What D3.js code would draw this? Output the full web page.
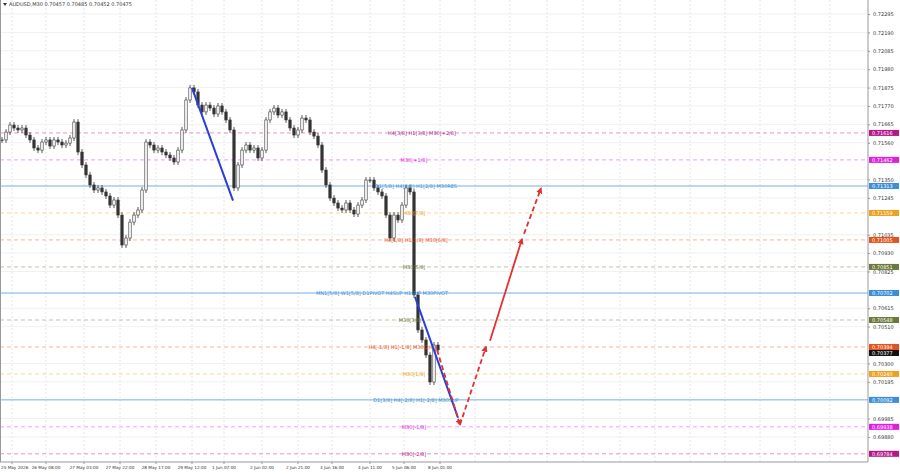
<!DOCTYPE html>
<html><head><meta charset="utf-8">
<script src="https://cdn.jsdelivr.net/npm/d3@7"></script>
<style>body{margin:0;background:#fff}svg{display:block}text{font-family:"DejaVu Sans",sans-serif}</style>
</head><body><svg id="c" width="900" height="474"></svg>
<script>
const closes=[0.71576,0.71621,0.71661,0.71644,0.71633,0.71644,0.71604,0.71576,0.71530,0.71518,0.71564,0.71576,0.71541,0.71576,0.71564,0.71547,0.71558,0.71587,0.71678,0.71507,0.71433,0.71376,0.71319,0.71290,0.71302,0.71279,0.71256,0.71204,0.71233,0.71147,0.70976,0.71016,0.71107,0.71147,0.71176,0.71290,0.71564,0.71547,0.71518,0.71530,0.71507,0.71490,0.71473,0.71450,0.71518,0.71633,0.71804,0.71873,0.71850,0.71775,0.71736,0.71775,0.71758,0.71724,0.71770,0.71736,0.71690,0.71633,0.71302,0.71433,0.71518,0.71547,0.71518,0.71530,0.71473,0.71518,0.71690,0.71736,0.71758,0.71718,0.71736,0.71690,0.71644,0.71604,0.71633,0.71701,0.71690,0.71621,0.71598,0.71547,0.71404,0.71319,0.71244,0.71216,0.71187,0.71176,0.71216,0.71176,0.71153,0.71204,0.71233,0.71347,0.71347,0.71302,0.71279,0.71256,0.71147,0.71016,0.71147,0.71119,0.71204,0.71302,0.71279,0.70691,0.70491,0.70434,0.70348,0.70194,0.70405,0.70377];
const priceTicks=[0.72295,0.72190,0.72085,0.71980,0.71875,0.71770,0.71665,0.71560,0.71350,0.71245,0.71035,0.70930,0.70825,0.70615,0.70510,0.70300,0.70195,0.69985,0.69880];
const timeLabels=["25 May 2026","26 May 08:00","27 May 03:00","27 May 22:00","28 May 17:00","29 May 12:00","1 Jun 07:00","2 Jun 02:00","2 Jun 21:00","3 Jun 16:00","4 Jun 11:00","5 Jun 06:00","8 Jun 01:00"];
const timeBars=[2.5,11,20.5,29.5,38.5,47.5,55.5,65,74,82.5,92,100.5,109.5];
const levelNames=["H4[3/8] H1[3/8] M30[+2/8]","M30[+1/8]","D1[5/8] H4[6/8] H1[2/8] M30RES","M30[7/8]","H4[1/8] H1[1/8] M30[6/8]","M30[5/8]","MN1[5/8] W1[5/8] D1PIVOT H4SUP H1SUP M30PIVOT","M30[3/8]","H4[-1/8] H1[-1/8] M30[2/8]","M30[1/8]","D1[3/8] H4[-2/8] H1[-2/8] M30SUP","M30[-1/8]","M30[-2/8]"];
const levelPrices=[0.71616,0.71462,0.71313,0.71159,0.71005,0.70851,0.70702,0.70548,0.70394,0.70240,0.70092,0.69938,0.69784];
const levelColors=["#b5178a","#e01ee0","#3b8fd8","#f0a020","#e5531c","#6b7a3a","#3b8fd8","#6b7a3a","#e5531c","#f0a020","#3b8fd8","#e01ee0","#b5178a"];
const levelSolid=[0,0,1,0,0,0,1,0,0,0,1,0,0];
const levelLabelBar=[105,103,103.5,103,103.5,103,95,102,100,103,103.5,103,103];
const blueLines=[[[47.5,0.71873],[57.75,0.71230]],[[103.25,0.70680],[114,0.69990]]];
const redDashed1=[[108.75,0.70377],[114.5,0.69950]];
const redDashed2=[[114.5,0.69950],[121,0.70395]];
const redSolid=[[122,0.70430],[130,0.71010]];
const redDashed3=[[130.5,0.71040],[134.75,0.71300]];
const current=0.70377;

const svg=d3.select("#c");
const W=868,H=462;
const x=d3.scaleLinear().domain([0,1]).range([2,6]);
const y=d3.scaleLinear().domain([0.72295,0.69880]).range([14,437]);
const defs=svg.append("defs");
defs.append("marker").attr("id","ar").attr("viewBox","0 0 10 10").attr("refX",8).attr("refY",5).attr("markerWidth",3.5).attr("markerHeight",3.5).attr("orient","auto").append("path").attr("d","M0,0L10,5L0,10z").attr("fill","#e53030");
svg.append("g").selectAll("line").data(timeBars).join("line").attr("x1",d=>x(d)).attr("x2",d=>x(d)).attr("y1",0).attr("y2",H).attr("stroke","#e6e6e6").attr("stroke-dasharray","2,2");
[475,510,547,583,620,655,690,725,760,795,830].forEach(px=>svg.append("line").attr("x1",px).attr("x2",px).attr("y1",0).attr("y2",H).attr("stroke","#e6e6e6").attr("stroke-dasharray","2,2"));
svg.append("g").selectAll("line").data(priceTicks).join("line").attr("x1",0).attr("x2",W).attr("y1",d=>y(d)).attr("y2",d=>y(d)).attr("stroke","#f0f0f0");
levelPrices.forEach((p,i)=>{
 svg.append("line").attr("x1",0).attr("x2",W).attr("y1",y(p)).attr("y2",y(p)).attr("stroke",levelColors[i]).attr("stroke-opacity",levelSolid[i]?0.7:0.55).attr("stroke-width",levelSolid[i]?1:0.8).attr("stroke-dasharray",levelSolid[i]?null:"4,3");
});
const g=svg.append("g");
closes.forEach((c,i)=>{
 const o=i?closes[i-1]:c;const hi=Math.max(o,c),lo=Math.min(o,c);
 const cx=x(i);
 g.append("line").attr("x1",cx).attr("x2",cx).attr("y1",y(hi)-3).attr("y2",y(lo)+3).attr("stroke","#333").attr("stroke-width",0.8);
 g.append("rect").attr("x",cx-1.2).attr("width",2.4).attr("y",y(hi)).attr("height",Math.max(0.8,y(lo)-y(hi))).attr("fill",c>=o?"#fff":"#333").attr("stroke","#333").attr("stroke-width",0.6);
});
levelPrices.forEach((p,i)=>{
 svg.append("text").attr("x",x(levelLabelBar[i])).attr("y",y(p)+2).attr("text-anchor","middle").attr("font-size",5).attr("fill",levelColors[i]).text(levelNames[i]);
});
const ln=d3.line().x(d=>x(d[0])).y(d=>y(d[1]));
blueLines.forEach(l=>svg.append("path").attr("d",ln(l)).attr("stroke","#2b3fd6").attr("stroke-width",2).attr("fill","none"));
[[redDashed1,1],[redDashed2,1],[redSolid,0],[redDashed3,1]].forEach(([l,d])=>svg.append("path").attr("d",ln(l)).attr("stroke","#e53030").attr("stroke-width",1.8).attr("stroke-dasharray",d?"5,3":null).attr("fill","none").attr("marker-end","url(#ar)"));
svg.append("line").attr("x1",W).attr("x2",W).attr("y1",0).attr("y2",H).attr("stroke","#999");
svg.append("line").attr("x1",0).attr("x2",W).attr("y1",H).attr("y2",H).attr("stroke","#999");
svg.append("line").attr("x1",0.5).attr("x2",0.5).attr("y1",0).attr("y2",H).attr("stroke","#999");
const ax=svg.append("g").attr("transform",`translate(${W},0)`).call(d3.axisRight(y).tickValues(priceTicks).tickSize(2).tickFormat(d3.format(".5f")));
ax.select(".domain").remove();
ax.selectAll("text").attr("font-size",5).attr("fill","#333");
ax.selectAll("line").attr("stroke","#999");
levelPrices.forEach((p,i)=>{
 svg.append("rect").attr("x",W+1).attr("y",y(p)-3).attr("width",30).attr("height",6).attr("fill",levelColors[i]);
 svg.append("text").attr("x",W+4).attr("y",y(p)+2).attr("font-size",5).attr("fill","#fff").text(d3.format(".5f")(p));
});
const cy=Math.max(y(current)-3,y(levelPrices[8])+3);
svg.append("rect").attr("x",W+1).attr("y",cy).attr("width",30).attr("height",6).attr("fill","#111");
svg.append("text").attr("x",W+4).attr("y",cy+5).attr("font-size",5).attr("fill","#fff").text(d3.format(".5f")(current));
svg.append("g").selectAll("text").data(timeLabels).join("text").attr("x",(d,i)=>i?x(timeBars[i]):1).attr("y",469).attr("font-size",4.2).attr("fill","#333").attr("text-anchor",(d,i)=>i?"middle":"start").text(d=>d);
svg.append("g").selectAll("line").data(timeBars).join("line").attr("x1",d=>x(d)).attr("x2",d=>x(d)).attr("y1",H).attr("y2",H+2).attr("stroke","#999");
svg.append("path").attr("d","M3,3L7,3L5,6z").attr("fill","#333");
svg.append("text").attr("x",9).attr("y",6).attr("font-size",5).attr("fill","#333").text("AUDUSD,M30  0.70457 0.70485 0.70452 0.70475");
</script></body></html>
